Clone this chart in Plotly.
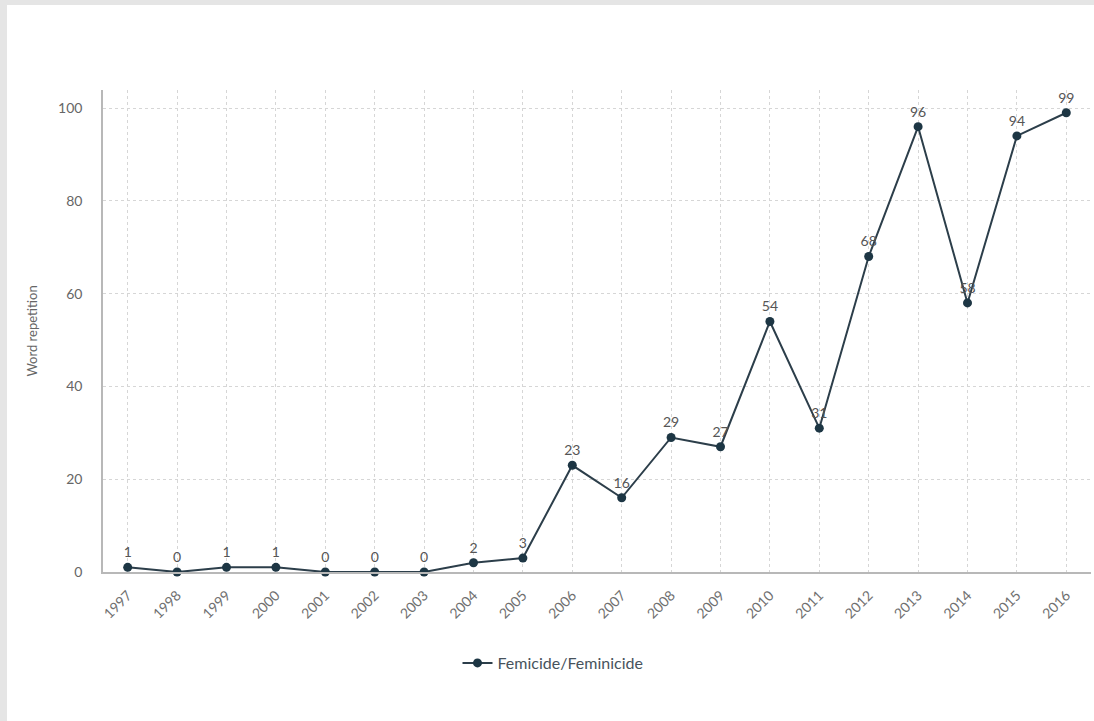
import plotly.graph_objects as go

years = ["1997", "1998", "1999", "2000", "2001", "2002", "2003", "2004", "2005", "2006",
         "2007", "2008", "2009", "2010", "2011", "2012", "2013", "2014", "2015", "2016"]
counts = [1, 0, 1, 1, 0, 0, 0, 2, 3, 23, 16, 29, 27, 54, 31, 68, 96, 58, 94, 99]
series_name = "Femicide/Feminicide"
y_title = "Word repetition"
y_ticks = [0, 20, 40, 60, 80, 100]

W, H = 1094, 721
ml, mr, mt, mb = 103, 3, 90, 149
pw, ph = W - ml - mr, H - mt - mb

def px_x(p):
    return (p - ml) / pw

def px_y(p):
    return 1 - (p - mt) / ph

fig = go.Figure()
fig.add_trace(go.Scatter(
    x=list(range(len(years))), y=counts, mode="lines+markers+text",
    name=series_name,
    line=dict(color="#2c3e4a", width=2),
    marker=dict(color="#1d3644", size=9),
    text=[str(v) for v in counts], textposition="top center",
    textfont=dict(family="Lato, Open Sans, sans-serif", size=14, color="#555555"),
    cliponaxis=False,
))

fig.update_layout(
    width=W, height=H,
    margin=dict(l=ml, r=mr, t=mt, b=mb),
    paper_bgcolor="#e5e5e5",
    plot_bgcolor="white",
    font=dict(family="Lato, Open Sans, sans-serif", color="#666666", size=12),
    showlegend=True,
    legend=dict(orientation="h", x=px_x(553), xanchor="center", y=px_y(663), yanchor="middle",
                font=dict(size=16, color="#47535c"), bgcolor="rgba(0,0,0,0)",
                itemwidth=30),
    shapes=[dict(type="rect", xref="paper", yref="paper", layer="below",
                 x0=px_x(7), x1=px_x(W + 5), y0=px_y(H + 5), y1=px_y(5),
                 fillcolor="white", line=dict(width=0))],
    xaxis=dict(
        range=[-0.5, len(years) - 0.5], tickmode="array",
        tickvals=list(range(len(years))), ticktext=years, tickangle=-45,
        showgrid=True, gridcolor="#d6d6d6", griddash="dot", gridwidth=1,
        showline=True, linecolor="#b8b8b8", linewidth=1.5,
        zeroline=False, ticks="", ticklabelstandoff=8,
        tickfont=dict(size=14, color="#707070"),
    ),
    yaxis=dict(
        range=[0, 103.9], tickmode="array", tickvals=y_ticks,
        showgrid=True, gridcolor="#d6d6d6", griddash="dot", gridwidth=1,
        showline=True, linecolor="#b8b8b8", linewidth=1.5,
        zeroline=False, ticks="", ticklabelstandoff=16,
        tickfont=dict(size=14, color="#666666"),
        title=dict(text=y_title, font=dict(size=13, color="#666666"), standoff=18),
    ),
)

fig.write_html("out.html", config={"displayModeBar": False},
               post_script="document.body.style.margin='0';document.body.style.overflow='hidden';")
